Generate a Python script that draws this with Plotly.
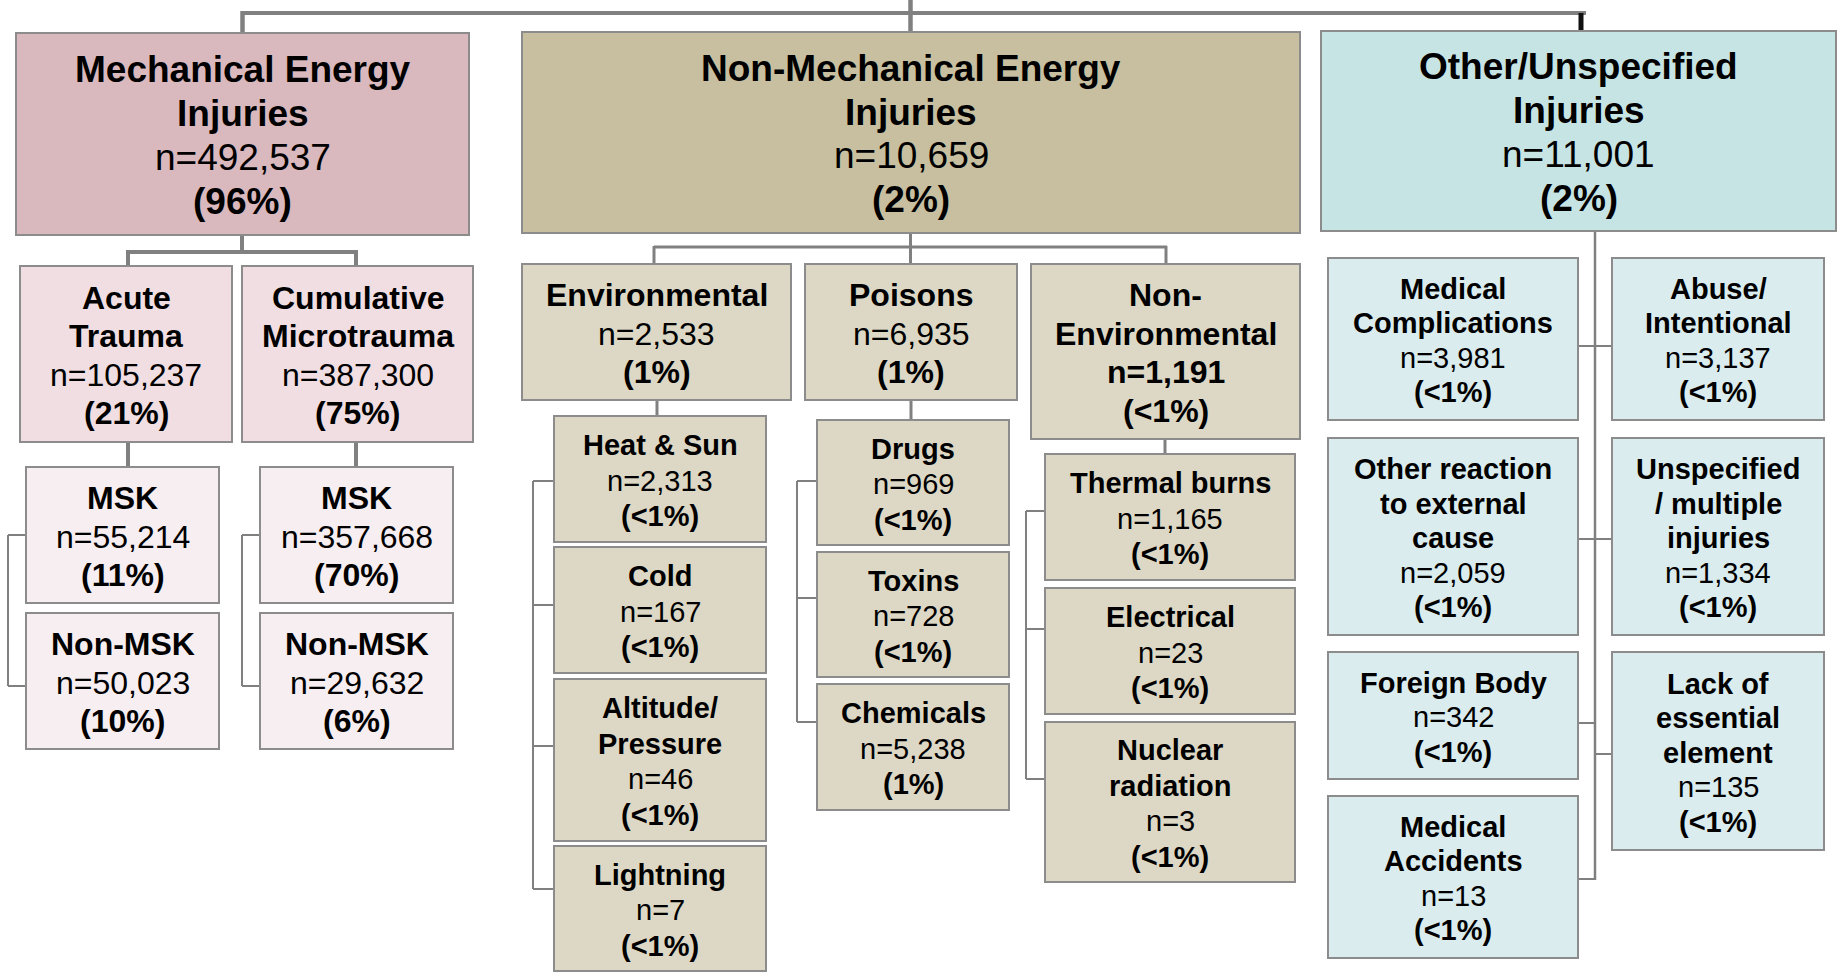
import plotly.graph_objects as go

# ---------------- DATA ----------------
node_titles = [
    "Mechanical Energy|Injuries", "Non-Mechanical Energy|Injuries", "Other/Unspecified|Injuries",
    "Acute|Trauma", "Cumulative|Microtrauma",
    "MSK", "Non-MSK", "MSK", "Non-MSK",
    "Environmental", "Poisons", "Non-|Environmental",
    "Heat &amp; Sun", "Cold", "Altitude/|Pressure", "Lightning",
    "Drugs", "Toxins", "Chemicals",
    "Thermal burns", "Electrical", "Nuclear|radiation",
    "Medical|Complications", "Abuse/|Intentional", "Other reaction|to external|cause",
    "Unspecified|/ multiple|injuries", "Foreign Body", "Lack of|essential|element",
    "Medical|Accidents",
]
node_counts = [
    492537, 10659, 11001,
    105237, 387300,
    55214, 50023, 357668, 29632,
    2533, 6935, 1191,
    2313, 167, 46, 7,
    969, 728, 5238,
    1165, 23, 3,
    3981, 3137, 2059,
    1334, 342, 135,
    13,
]
node_pcts = [
    "96%", "2%", "2%",
    "21%", "75%",
    "11%", "10%", "70%", "6%",
    "1%", "1%", "<1%",
    "<1%", "<1%", "<1%", "<1%",
    "<1%", "<1%", "1%",
    "<1%", "<1%", "<1%",
    "<1%", "<1%", "<1%",
    "<1%", "<1%", "<1%",
    "<1%",
]
bold_count_nodes = [11]

# ---------------- LAYOUT / GEOMETRY (pixels) ----------------
W, H = 1839, 972
boxes = [
    (16, 33, 469, 235), (522, 32, 1300, 233), (1321, 31, 1836, 231),
    (20, 266, 232, 442), (242, 266, 473, 442),
    (26, 467, 219, 603), (26, 613, 219, 749), (260, 467, 453, 603), (260, 613, 453, 749),
    (522, 264, 791, 400), (805, 264, 1017, 400), (1031, 264, 1300, 439),
    (554, 416, 766, 542), (554, 547, 766, 673), (554, 679, 766, 841), (554, 846, 766, 971),
    (817, 420, 1009, 545), (817, 552, 1009, 677), (817, 684, 1009, 810),
    (1045, 454, 1295, 580), (1045, 588, 1295, 714), (1045, 722, 1295, 882),
    (1328, 258, 1578, 420), (1612, 258, 1824, 420), (1328, 438, 1578, 635),
    (1612, 438, 1824, 635), (1328, 652, 1578, 779), (1612, 652, 1824, 850),
    (1328, 796, 1578, 958),
]
fills = (["#D9B8BE", "#C7BF9F", "#C7E4E4"] + ["#F0DEE2"] * 2 + ["#F6EEF0"] * 4
         + ["#DDD8C5"] * 13 + ["#DAECEE"] * 7)
# text style: (font size, line spacing)
styles = ([(37, 43.7)] * 3 + [(32, 38.4)] * 6 + [(32, 38.8)] * 3
          + [(29, 35.5)] * 10 + [(29, 34.5)] * 7)
Y_SHIFT = 1.5

# connector lines: (x0, y0, x1, y1, width, color)
G = "#808080"
lines = [
    (242, 13, 1586, 13, 4, G),
    (910.5, 0, 910.5, 32, 4.5, G),
    (242.5, 11, 242.5, 33, 4.5, G),
    (1581, 13, 1581, 31, 5, "#111111"),
    # mechanical
    (242, 235, 242, 252, 4, G), (128, 252, 356, 252, 4, G),
    (128, 250, 128, 266, 4, G), (356, 250, 356, 266, 4, G),
    (128, 442, 128, 467, 4, G), (356, 442, 356, 467, 4, G),
    (8, 535, 8, 686, 2, G), (8, 535, 26, 535, 2, G), (8, 686, 26, 686, 2, G),
    (242, 535, 242, 686, 2, G), (242, 535, 260, 535, 2, G), (242, 686, 260, 686, 2, G),
    # non-mechanical
    (910.5, 233, 910.5, 264, 3, G), (654, 247, 1167, 247, 3, G),
    (654, 246, 654, 264, 3, G), (1166, 246, 1166, 264, 3, G),
    (657, 400, 657, 416, 3, G), (911, 400, 911, 420, 3, G), (1165, 439, 1165, 454, 3, G),
    (533, 481, 533, 889, 2, G), (533, 481, 554, 481, 2, G), (533, 605, 554, 605, 2, G),
    (533, 746, 554, 746, 2, G), (533, 889, 554, 889, 2, G),
    (797, 481, 797, 722, 2, G), (797, 481, 817, 481, 2, G), (797, 598, 817, 598, 2, G),
    (797, 722, 817, 722, 2, G),
    (1026, 511, 1026, 779, 2, G), (1026, 511, 1045, 511, 2, G), (1026, 629, 1045, 629, 2, G),
    (1026, 779, 1045, 779, 2, G),
    # other
    (1595, 231, 1595, 880, 2.5, G),
    (1578, 346, 1612, 346, 2, G), (1578, 539, 1612, 539, 2, G),
    (1578, 723, 1595, 723, 2, G), (1595, 754, 1612, 754, 2, G),
    (1578, 879, 1595, 879, 2, G),
]

FONT = "Liberation Sans, Arial, sans-serif"

fig = go.Figure()
shapes = []
for (x0, y0, x1, y1, w, c) in lines:
    shapes.append(dict(type="line", x0=x0, y0=y0, x1=x1, y1=y1, xref="x", yref="y",
                       line=dict(color=c, width=w), layer="below"))
for (x0, y0, x1, y1), f in zip(boxes, fills):
    shapes.append(dict(type="rect", x0=x0, y0=y0, x1=x1, y1=y1, xref="x", yref="y",
                       fillcolor=f, line=dict(color="#8C8C8C", width=2), layer="below"))

annotations = []
for i, (title, cnt, pct) in enumerate(zip(node_titles, node_counts, node_pcts)):
    x0, y0, x1, y1 = boxes[i]
    fs, sp = styles[i]
    cnt_txt = "n=" + f"{cnt:,}"
    if i in bold_count_nodes:
        cnt_txt = "<b>" + cnt_txt + "</b>"
    txt_lines = ["<b>" + t + "</b>" for t in title.split("|")]
    txt_lines += [cnt_txt, "<b>(" + pct.replace("<", "&lt;") + ")</b>"]
    n = len(txt_lines)
    cx, cy = (x0 + x1) / 2, (y0 + y1) / 2 + Y_SHIFT
    for k, t in enumerate(txt_lines):
        annotations.append(dict(x=cx, y=cy + (k - (n - 1) / 2) * sp, xref="x", yref="y",
                                text=t, showarrow=False, xanchor="center", yanchor="middle",
                                font=dict(family=FONT, size=fs, color="#000000")))

fig.update_layout(
    width=W, height=H, margin=dict(l=0, r=0, t=0, b=0),
    paper_bgcolor="white", plot_bgcolor="white",
    xaxis=dict(range=[0, W], visible=False, fixedrange=True),
    yaxis=dict(range=[H, 0], visible=False, fixedrange=True),
    shapes=shapes, annotations=annotations, showlegend=False,
)
fig.write_html("out.html", config={"displayModeBar": False},
               post_script="document.body.style.margin='0';document.body.style.overflow='hidden';")
